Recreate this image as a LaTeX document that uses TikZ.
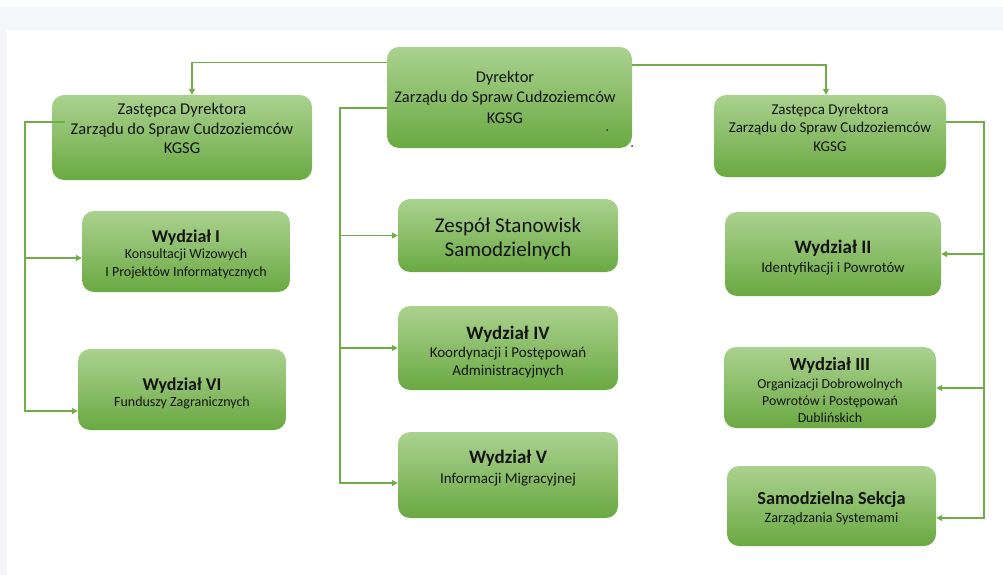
\documentclass[tikz,border=0pt]{standalone}
\usepackage{fontspec}
\setmainfont{Carlito}
\usetikzlibrary{arrows.meta}
\definecolor{lg}{RGB}{112,173,71}
\definecolor{gtop}{RGB}{170,210,143}
\definecolor{gbot}{RGB}{106,169,66}
\definecolor{bgg}{RGB}{245,246,248}
\definecolor{txt}{RGB}{20,20,20}
\newcommand\fs[2]{\fontsize{#1}{#2}\selectfont}
\newcommand\bt[4]{\raisebox{#2}[\height][\depth]{\kern#1#3\begin{tabular}{@{}c@{}}#4\end{tabular}\kern-#1}}
\newcommand\ttl[2]{{\fs{#1}{#1}\bfseries #2}}
\begin{document}
\begin{tikzpicture}[x=1pt,y=-1pt,
  box/.style={rounded corners=12pt, top color=gtop, bottom color=gbot, draw=none, text=txt, inner sep=0pt},
  conn/.style={draw=lg, line width=1.8pt},
  arr/.style={conn, -{Triangle[length=6pt,width=6pt]}}]
\useasboundingbox (0,0) rectangle (1003,575);
\fill[white] (0,0) rectangle (1003,575);
\fill[bgg] (0,7) rectangle (1003,30);
\fill[bgg] (0,7) rectangle (7,575);

% boxes
\node[box, minimum width=245pt, minimum height=101pt] (dyr) at (509.5,97.5)
  {\bt{-4.5pt}{-1pt}{\fs{16.4}{20.5}}{Dyrektor\\Zarządu do Spraw Cudzoziemców\\KGSG}};
\node[box, minimum width=260pt, minimum height=85pt] (zl) at (182,137.5)
  {\bt{0pt}{7pt}{\fs{16.5}{19.5}}{Zastępca Dyrektora\\Zarządu do Spraw Cudzoziemców\\KGSG}};
\node[box, minimum width=208pt, minimum height=81pt] (w1) at (186,251.5)
  {\bt{0pt}{-4pt}{\fs{14}{18}}{\ttl{18}{Wydział I}\\[-2pt]Konsultacji Wizowych\\I Projektów Informatycznych}};
\node[box, minimum width=208pt, minimum height=81pt] (w6) at (182,389.5)
  {\bt{0pt}{-5pt}{\fs{14}{18}}{\ttl{18}{Wydział VI}\\[-2pt]Funduszy Zagranicznych}};
\node[box, minimum width=220pt, minimum height=73pt] (zss) at (508,235.5)
  {\bt{0pt}{-4pt}{\fs{21}{24}}{Zespół Stanowisk\\Samodzielnych}};
\node[box, minimum width=220pt, minimum height=84pt] (w4) at (508,348)
  {\bt{0pt}{-6pt}{\fs{15}{18}}{\ttl{19}{Wydział IV}\\Koordynacji i Postępowań\\Administracyjnych}};
\node[box, minimum width=220pt, minimum height=86pt] (w5) at (508,475)
  {\bt{0pt}{5pt}{\fs{15}{18}}{\ttl{19}{Wydział V}\\[2pt]Informacji Migracyjnej}};
\node[box, minimum width=232pt, minimum height=82pt] (zr) at (830,136)
  {\bt{0pt}{7pt}{\fs{15}{18.5}}{Zastępca Dyrektora\\Zarządu do Spraw Cudzoziemców\\KGSG}};
\node[box, minimum width=216pt, minimum height=84pt] (w2) at (833,254)
  {\bt{0pt}{-5pt}{\fs{14.7}{18}}{\ttl{19}{Wydział II}\\[1pt]Identyfikacji i Powrotów}};
\node[box, minimum width=212pt, minimum height=81pt] (w3) at (830,387.5)
  {\bt{0pt}{-5pt}{\fs{13.8}{17}}{\ttl{18.6}{Wydział III}\\[0.6pt]Organizacji Dobrowolnych\\Powrotów i Postępowań\\Dublińskich}};
\node[box, minimum width=209pt, minimum height=80pt] (ss) at (831.5,506)
  {\bt{0pt}{-4pt}{\fs{14.2}{18}}{\ttl{18.3}{Samodzielna Sekcja}\\Zarządzania Systemami}};

% small dots
\fill[black!80] (607,130) circle (1pt);
\fill[black!80] (632,146) circle (1pt);

% connectors
\coordinate (a) at (192,62.5);
\coordinate (b) at (826,65);
\draw[arr] (dyr.west |- a) -| (zl.north -| a);
\draw[arr] (dyr.east |- b) -| (zr.north -| b);

\coordinate (cx) at (340,108);
\coordinate (c5) at (340,483);
\draw[arr] (dyr.west |- cx) -- (cx) -- (c5) -- (w5.west |- c5);
\draw[arr] (cx |- zss) -- (zss.west);
\draw[arr] (cx |- w4) -- (w4.west);

\coordinate (zls) at ([xshift=13pt]zl.west);
\coordinate (l1) at (25,122);
\coordinate (l2) at (25,258);
\coordinate (l6) at (25,411);
\draw[arr] (zls |- l1) -- (l1) -- (l6) -- (w6.west |- l6);
\draw[arr] (l2) -- (w1.west |- l2);

\coordinate (r1) at (984,122);
\coordinate (r3) at (984,388);
\coordinate (r6) at (984,518);
\draw[arr] (zr.east |- r1) -- (r1) -- (r6) -- (ss.east |- r6);
\draw[arr] (r1 |- w2) -- (w2.east);
\draw[arr] (r3) -- (w3.east |- r3);
\end{tikzpicture}
\end{document}
